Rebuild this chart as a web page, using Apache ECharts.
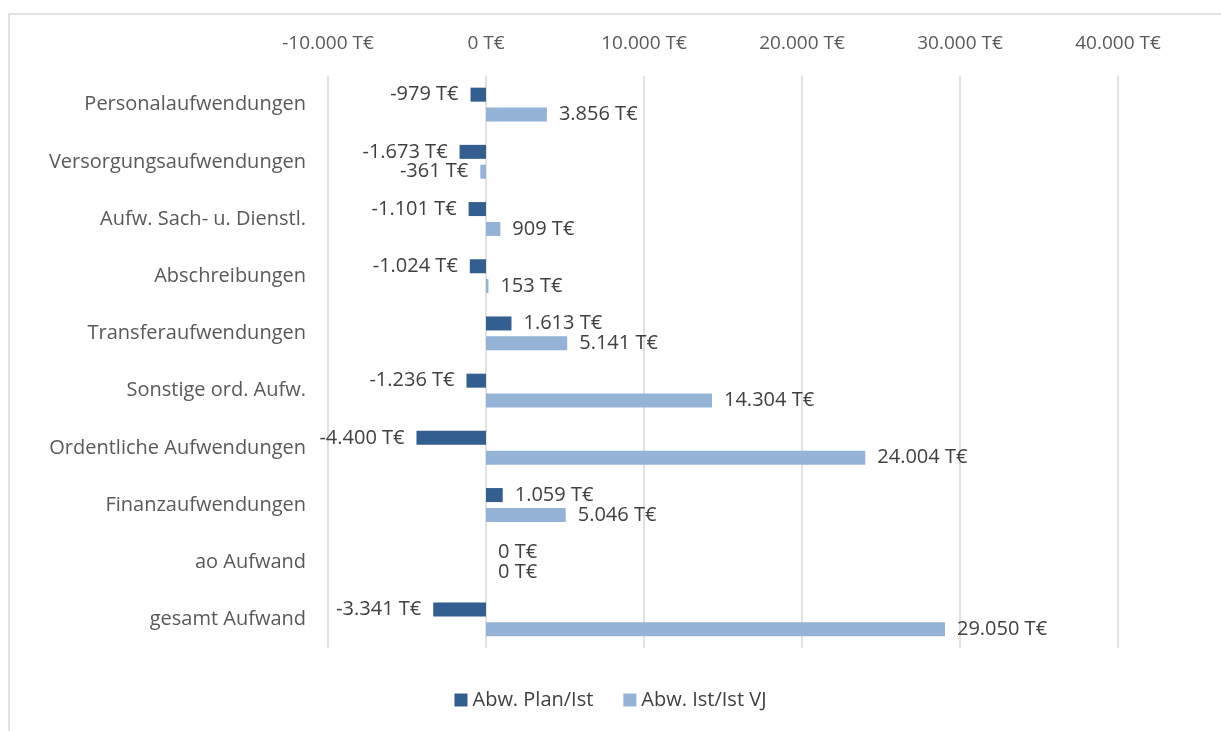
<!DOCTYPE html>
<html>
<head>
<meta charset="utf-8">
<script src="https://cdn.jsdelivr.net/npm/echarts@6/dist/echarts.min.js"></script>
<style>
  html, body { margin: 0; padding: 0; background: #fff; }
  #chart { width: 1221px; height: 731px; }
</style>
</head>
<body>
<div id="chart"></div>
<script>
const categories = [
  "Personalaufwendungen",
  "Versorgungsaufwendungen",
  "Aufw. Sach- u. Dienstl.",
  "Abschreibungen",
  "Transferaufwendungen",
  "Sonstige ord. Aufw.",
  "Ordentliche Aufwendungen",
  "Finanzaufwendungen",
  "ao Aufwand",
  "gesamt Aufwand",
];
const planIst = [-979, -1673, -1101, -1024, 1613, -1236, -4400, 1059, 0, -3341];
const istIstVJ = [3856, -361, 909, 153, 5141, 14304, 24004, 5046, 0, 29050];

const FONT = "Open Sans";

// 1234 -> "1.234 T€"
function fmt(v) {
  const s = Math.abs(v).toString().replace(/\B(?=(\d{3})+(?!\d))/g, ".");
  return (v < 0 ? "-" : "") + s + " T€";
}

function toItems(arr) {
  return arr.map((v) => ({
    value: v,
    label: { position: v < 0 ? "left" : "right" },
  }));
}

const chart = echarts.init(document.getElementById("chart"));

const barLabel = {
  show: true,
  distance: 12,
  color: "#404040",
  fontFamily: FONT,
  fontSize: 20,
  formatter: (p) => fmt(p.value),
};

chart.setOption({
  animation: false,
  graphic: [
    {
      type: "rect",
      shape: { x: 9, y: 14, width: 1240, height: 740 },
      style: { fill: "none", stroke: "#d9d9d9", lineWidth: 1.5 },
      silent: true,
    },
  ],
  grid: { left: 328, right: 103, top: 76, bottom: 83, containLabel: false },
  legend: {
    bottom: 16,
    left: "center",
    icon: "rect",
    itemWidth: 13,
    itemHeight: 13,
    itemGap: 30,
    textStyle: { color: "#404040", fontFamily: FONT, fontSize: 20 },
    data: ["Abw. Plan/Ist", "Abw. Ist/Ist VJ"],
  },
  xAxis: {
    type: "value",
    position: "top",
    min: -10000,
    max: 40000,
    interval: 10000,
    axisLine: { show: false },
    axisTick: { show: false },
    splitLine: { lineStyle: { color: "#d9d9d9", width: 1.5 } },
    axisLabel: {
      color: "#595959",
      fontFamily: FONT,
      fontSize: 19,
      margin: 23,
      formatter: (v) => fmt(v),
    },
  },
  yAxis: {
    type: "category",
    inverse: true,
    data: categories,
    axisLine: { show: false },
    axisTick: { show: false },
    axisLabel: {
      color: "#595959",
      fontFamily: FONT,
      fontSize: 20,
      margin: 22,
    },
  },
  series: [
    {
      name: "Abw. Plan/Ist",
      type: "bar",
      data: toItems(planIst),
      barWidth: 14,
      barGap: "42%",
      itemStyle: { color: "#335e90" },
      label: barLabel,
    },
    {
      name: "Abw. Ist/Ist VJ",
      type: "bar",
      data: toItems(istIstVJ),
      barWidth: 14,
      itemStyle: { color: "#95b3d7" },
      label: barLabel,
    },
  ],
});
</script>
</body>
</html>
